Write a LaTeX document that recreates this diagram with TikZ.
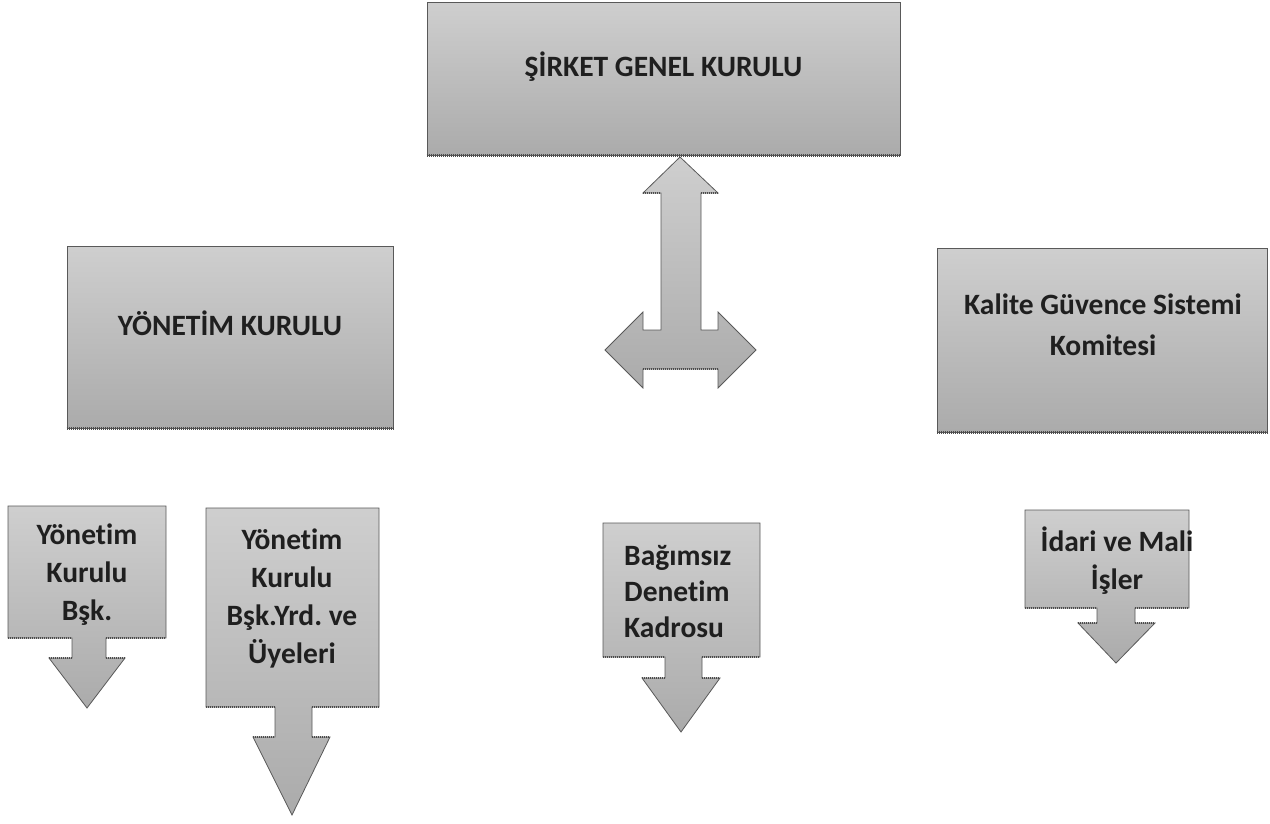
\documentclass[tikz,border=0pt]{standalone}
\usepackage{fontspec}
\setmainfont[Ligatures=NoCommon]{Carlito}
\usepackage{xcolor}
\usepackage{tikz}
\frenchspacing

\begin{document}
\begin{tikzpicture}[x=1pt,y=-1pt,
		box/.style={draw=black!65, line width=0.8pt, top color=black!19, bottom color=black!33},
		yazi/.style={font=\bfseries\fontsize{29.5}{38}\selectfont, text=black!88, align=center, inner sep=0pt},
		golge/.style={draw=black!70, line width=2.4pt, dash pattern=on 1pt off 1pt}]
			\useasboundingbox (0,0) rectangle (1270,823);
			% Üst kutu
			\node[box, minimum width=473, minimum height=153] (genel) at (663.5,78.5) {};
			\node[yazi] (genel-t) at (663.5,67) {ŞİRKET GENEL KURULU};
			\draw[golge] (genel.south west) -- (genel.south east);
			% Yan kutular
			\node[box, minimum width=326, minimum height=182] (yk) at (230,337) {};
			\node[yazi] (yk-t) at (230,323) {YÖNETİM KURULU};
			\draw[golge] (yk.south west) -- (yk.south east);
			\node[box, minimum width=330, minimum height=184] (kalite) at (1102,340) {};
			\node[yazi, font=\bfseries\fontsize{29.5}{41}\selectfont] (kalite-t) at (1103,325) {Kalite Güvence Sistemi\\Komitesi};
			\draw[golge] (kalite.south west) -- (kalite.south east);
			% Çift yönlü ok
			\draw[box] (680,157) -- (718,193) -- (701,193) -- (701,330) -- (718,330) -- (718,312) -- (756,350)
				-- (718,388) -- (718,369) -- (643,369) -- (643,388) -- (605,350) -- (643,312) -- (643,330)
				-- (661,330) -- (661,193) -- (643,193) -- cycle;
			\draw[golge] (643,193) -- (661,193) (701,193) -- (718,193) (643,369) -- (718,369);
			% Alt oklu kutular
			\draw[box] (8,506) -- (166,506) -- (166,638) -- (106,638) -- (106,658) -- (125,658) -- (87,708)
				-- (49,658) -- (72,658) -- (72,638) -- (8,638) -- cycle;
			\draw[golge] (8,638) -- (72,638) (106,638) -- (166,638) (49,658) -- (72,658) (106,658) -- (125,658);
			\node[yazi] (bsk) at (87,575) {Yönetim\\Kurulu\\Bşk.};
			\draw[box] (206,508) -- (379,508) -- (379,707) -- (312,707) -- (312,737) -- (330,737) -- (292,815)
				-- (253,737) -- (275,737) -- (275,707) -- (206,707) -- cycle;
			\draw[golge] (206,707) -- (275,707) (312,707) -- (379,707) (253,737) -- (275,737) (312,737) -- (330,737);
			\node[yazi] (uye) at (292,598) {Yönetim\\Kurulu\\Bşk.Yrd. ve\\Üyeleri};
			\draw[box] (603,523) -- (760,523) -- (760,657) -- (702,657) -- (702,678) -- (720,678) -- (681,732)
				-- (642,678) -- (665,678) -- (665,657) -- (603,657) -- cycle;
			\draw[golge] (603,657) -- (665,657) (702,657) -- (760,657) (642,678) -- (665,678) (702,678) -- (720,678);
			\node[yazi, align=left, anchor=west, font=\bfseries\fontsize{29.5}{36}\selectfont] (denetim) at (624,592) {Bağımsız\\Denetim\\Kadrosu};
			\draw[box] (1025,510) -- (1189,510) -- (1189,608) -- (1135,608) -- (1135,623) -- (1155,623) -- (1116,663)
				-- (1078,623) -- (1097,623) -- (1097,608) -- (1025,608) -- cycle;
			\draw[golge] (1025,608) -- (1097,608) (1135,608) -- (1189,608) (1078,623) -- (1097,623) (1135,623) -- (1155,623);
			\node[yazi] (idari) at (1117,561) {İdari ve Mali\\İşler};
		\end{tikzpicture}
\end{document}
